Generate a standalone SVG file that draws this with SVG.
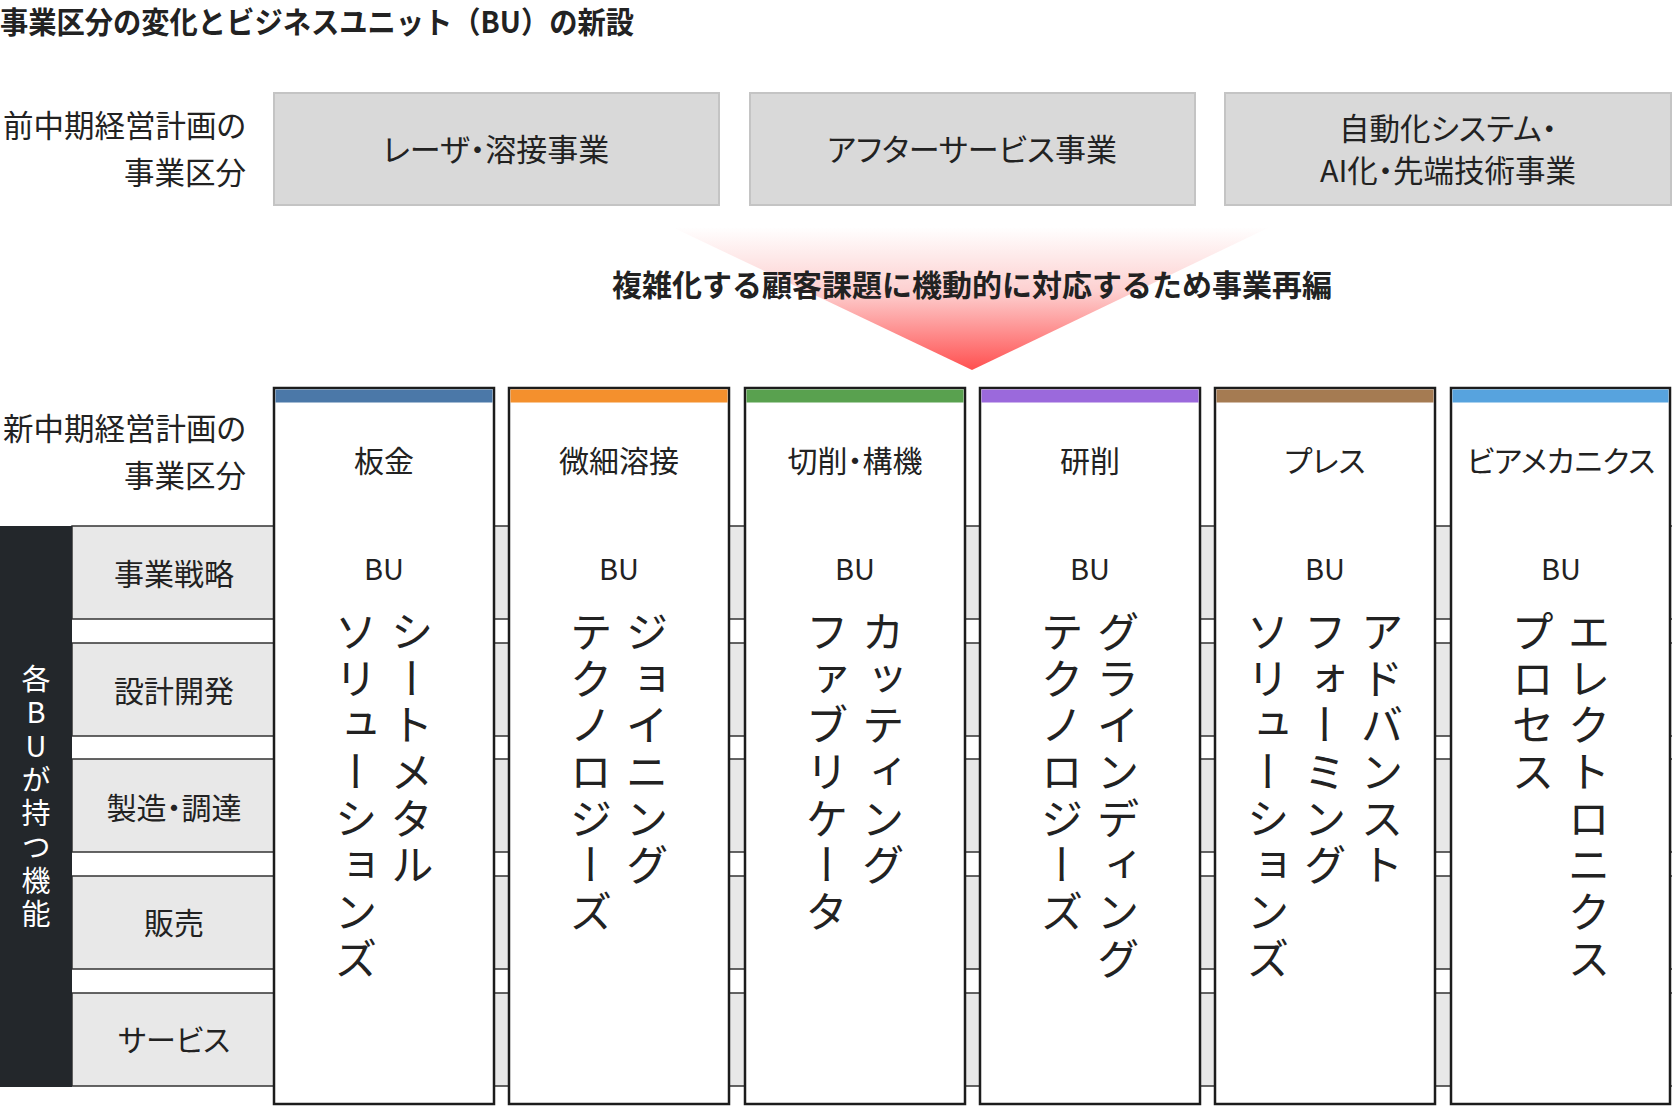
<svg xmlns="http://www.w3.org/2000/svg" width="1672" height="1107" viewBox="0 0 1672 1107">
<style>
text{font-family:"Noto Sans CJK JP","Noto Sans",sans-serif;fill:#222;}
.p{font-feature-settings:"palt";}
.title{font-size:30px;font-weight:700;}
.lbl{font-size:30.5px;text-anchor:end;}
.box{fill:#d9d9d9;stroke:#c4c4c4;stroke-width:2;}
.bt{font-size:31px;text-anchor:middle;}
.bt2{font-size:30.5px;text-anchor:middle;}
.row{fill:#e8e8e8;stroke:#333;stroke-width:1.5;}
.rt{font-size:30px;text-anchor:middle;}
.col{fill:#fff;stroke:#1c1c1c;stroke-width:2.5;}
.ct{font-size:30px;text-anchor:middle;}
.bu{font-size:29px;text-anchor:middle;}
.vt{font-size:43px;writing-mode:vertical-rl;letter-spacing:3.7px;}
.mid{font-size:30px;font-weight:700;text-anchor:middle;}
</style>
<defs>
<linearGradient id="rg" x1="0" y1="0" x2="0" y2="1">
<stop offset="0" stop-color="#ffffff"/>
<stop offset="0.45" stop-color="#fdd0d0"/>
<stop offset="1" stop-color="#ff5050"/>
</linearGradient>
</defs>
<rect width="1672" height="1107" fill="#fff"/>
<text class="title" x="0" y="33" textLength="634" lengthAdjust="spacingAndGlyphs">事業区分の変化とビジネスユニット（BU）の新設</text>

<g id="label-old">
<text class="lbl p" x="246" y="136.5">前中期経営計画の</text>
<text class="lbl p" x="246" y="183.5">事業区分</text>
</g>
<g id="old-1"><rect class="box" x="274" y="93" width="445" height="112"/><text class="bt p" x="496" y="161">レーザ・溶接事業</text></g>
<g id="old-2"><rect class="box" x="750" y="93" width="445" height="112"/><text class="bt p" x="972" y="161">アフターサービス事業</text></g>
<g id="old-3"><rect class="box" x="1225" y="93" width="446" height="112"/><text class="bt2 p" x="1448" y="140">自動化システム・</text><text class="bt2 p" x="1448" y="181.5">AI化・先端技術事業</text></g>

<g id="arrow">
<polygon points="672,227 1270,227 972,370" fill="url(#rg)"/>
<text class="mid" x="972" y="296">複雑化する顧客課題に機動的に対応するため事業再編</text>
</g>

<g id="label-new">
<text class="lbl p" x="246" y="439.5">新中期経営計画の</text>
<text class="lbl p" x="246" y="486.5">事業区分</text>
</g>

<g id="rows">
<rect class="row" x="72" y="526" width="1601" height="93"/>
<rect class="row" x="72" y="643" width="1601" height="93"/>
<rect class="row" x="72" y="759" width="1601" height="93"/>
<rect class="row" x="72" y="876" width="1601" height="93"/>
<rect class="row" x="72" y="993" width="1601" height="93"/>
<text class="rt p" x="174" y="585">事業戦略</text>
<text class="rt p" x="174" y="702">設計開発</text>
<text class="rt p" x="174" y="818.5">製造・調達</text>
<text class="rt p" x="174" y="934">販売</text>
<text class="rt p" x="174" y="1051">サービス</text>
</g>
<g id="functions">
<rect x="0" y="526" width="72" height="561" fill="#23272b"/>
<text x="36" y="664" style="font-size:29px;fill:#fff;writing-mode:vertical-rl;text-orientation:upright;letter-spacing:4.7px;">各BUが持つ機能</text>
</g>

<g id="bu-1">
<rect class="col" x="274" y="388" width="220" height="716"/>
<rect x="275.5" y="389.5" width="217" height="13" fill="#4b78a8"/>
<text class="ct p" x="384" y="472">板金</text>
<text class="bu" x="384" y="580">BU</text>
<text class="vt" x="412" y="610">シートメタル</text>
<text class="vt" x="356" y="610">ソリューションズ</text>
</g>
<g id="bu-2">
<rect class="col" x="509" y="388" width="220" height="716"/>
<rect x="510.5" y="389.5" width="217" height="13" fill="#f4902d"/>
<text class="ct p" x="619" y="472">微細溶接</text>
<text class="bu" x="619" y="580">BU</text>
<text class="vt" x="647" y="610">ジョイニング</text>
<text class="vt" x="591" y="610">テクノロジーズ</text>
</g>
<g id="bu-3">
<rect class="col" x="745" y="388" width="220" height="716"/>
<rect x="746.5" y="389.5" width="217" height="13" fill="#59a14f"/>
<text class="ct p" x="855" y="472">切削・構機</text>
<text class="bu" x="855" y="580">BU</text>
<text class="vt" x="883" y="610">カッティング</text>
<text class="vt" x="827" y="610">ファブリケータ</text>
</g>
<g id="bu-4">
<rect class="col" x="980" y="388" width="220" height="716"/>
<rect x="981.5" y="389.5" width="217" height="13" fill="#9b69dc"/>
<text class="ct p" x="1090" y="472">研削</text>
<text class="bu" x="1090" y="580">BU</text>
<text class="vt" x="1118" y="610">グラインディング</text>
<text class="vt" x="1062" y="610">テクノロジーズ</text>
</g>
<g id="bu-5">
<rect class="col" x="1215" y="388" width="220" height="716"/>
<rect x="1216.5" y="389.5" width="217" height="13" fill="#a57b52"/>
<text class="ct p" x="1325" y="472">プレス</text>
<text class="bu" x="1325" y="580">BU</text>
<text class="vt" x="1382" y="610">アドバンスト</text>
<text class="vt" x="1325" y="610">フォーミング</text>
<text class="vt" x="1268" y="610">ソリューションズ</text>
</g>
<g id="bu-6">
<rect class="col" x="1451" y="388" width="219" height="716"/>
<rect x="1452.5" y="389.5" width="216" height="13" fill="#57a3de"/>
<text class="ct p" x="1561" y="472">ビアメカニクス</text>
<text class="bu" x="1561" y="580">BU</text>
<text class="vt" x="1589" y="610">エレクトロニクス</text>
<text class="vt" x="1533" y="610">プロセス</text>
</g>
<g id="connectors"></g>
</svg>
